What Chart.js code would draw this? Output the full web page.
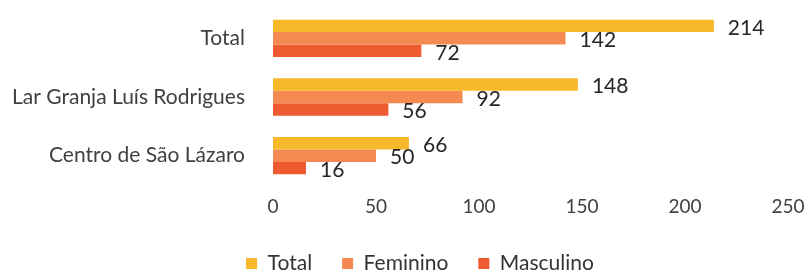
<!DOCTYPE html>
<html>
<head>
<meta charset="utf-8">
<script src="https://cdn.jsdelivr.net/npm/chart.js@4.4.1/dist/chart.umd.min.js"></script>
<style>
  html, body { margin: 0; padding: 0; background: #fff; overflow: hidden; }
  #wrap { width: 807px; height: 271px; }
</style>
</head>
<body>
<div id="wrap"><canvas id="chart"></canvas></div>
<script>
// chart data
var categories = ['Total', 'Lar Granja Luís Rodrigues', 'Centro de São Lázaro'];
var totalValues = [214, 148, 66];
var femininoValues = [142, 92, 50];
var masculinoValues = [72, 56, 16];
var xTicks = [0, 50, 100, 150, 200, 250];

var fontName = 'Lato, "Open Sans", sans-serif';

// draws the value next to the end of each bar
const valueLabels = {
    id: 'valueLabels',
    afterDatasetsDraw(chart) {
        const ctx = chart.ctx;
        ctx.save();
        ctx.font = '21px ' + fontName;
        ctx.fillStyle = '#262626';
        ctx.textAlign = 'left';
        ctx.textBaseline = 'middle';
        chart.data.datasets.forEach((ds, i) => {
            chart.getDatasetMeta(i).data.forEach((bar, j) => {
                ctx.fillText(ds.data[j], bar.x + 14, bar.y + 2);
            });
        });
        ctx.restore();
    }
};

// fixed legend height, and move the legend a bit to the right
const legendBox = {
    id: 'legendBox',
    beforeInit(chart) {
        const origFit = chart.legend.fit;
        chart.legend.fit = function () {
            origFit.bind(chart.legend)();
            this.height = 48;
        };
    },
    afterLayout(chart) {
        chart.legend.left += 26;
        chart.legend.right += 26;
    }
};

new Chart(document.getElementById('chart'), {
    type: 'bar',
    data: {
        labels: categories,
        datasets: [
            { label: 'Total', data: totalValues, backgroundColor: '#F7B82A' },
            { label: 'Feminino', data: femininoValues, backgroundColor: '#F48A52' },
            { label: 'Masculino', data: masculinoValues, backgroundColor: '#EF5B30' }
        ]
    },
    options: {
        indexAxis: 'y',
        responsive: true,
        maintainAspectRatio: false,
        animation: false,
        datasets: {
            bar: { barPercentage: 1, categoryPercentage: 0.635 }
        },
        layout: { padding: { top: 9, right: 19, left: 0, bottom: 0 } },
        plugins: {
            legend: {
                position: 'bottom',
                labels: {
                    boxWidth: 11,
                    boxHeight: 11,
                    padding: 30,
                    color: '#333',
                    font: { family: fontName, size: 21 }
                }
            },
            tooltip: { enabled: false }
        },
        scales: {
            y: {
                grid: { display: false, drawTicks: false },
                border: { display: false },
                ticks: { padding: 28, color: '#404040', font: { family: fontName, size: 21 } },
                afterFit: function (scale) {
                    scale.width = 273;
                    scale.paddingTop = 0;
                    scale.paddingBottom = 0;
                }
            },
            x: {
                min: 0,
                max: 250,
                grid: { display: false, drawTicks: false },
                border: { display: false },
                afterBuildTicks: function (scale) {
                    scale.ticks = xTicks.map(v => ({ value: v }));
                },
                afterFit: function (scale) {
                    scale.height = 38;
                    scale.paddingLeft = 0;
                    scale.paddingRight = 0;
                },
                ticks: { padding: 10, color: '#404040', font: { family: fontName, size: 19 } }
            }
        }
    },
    plugins: [valueLabels, legendBox]
});
</script>
</body>
</html>
